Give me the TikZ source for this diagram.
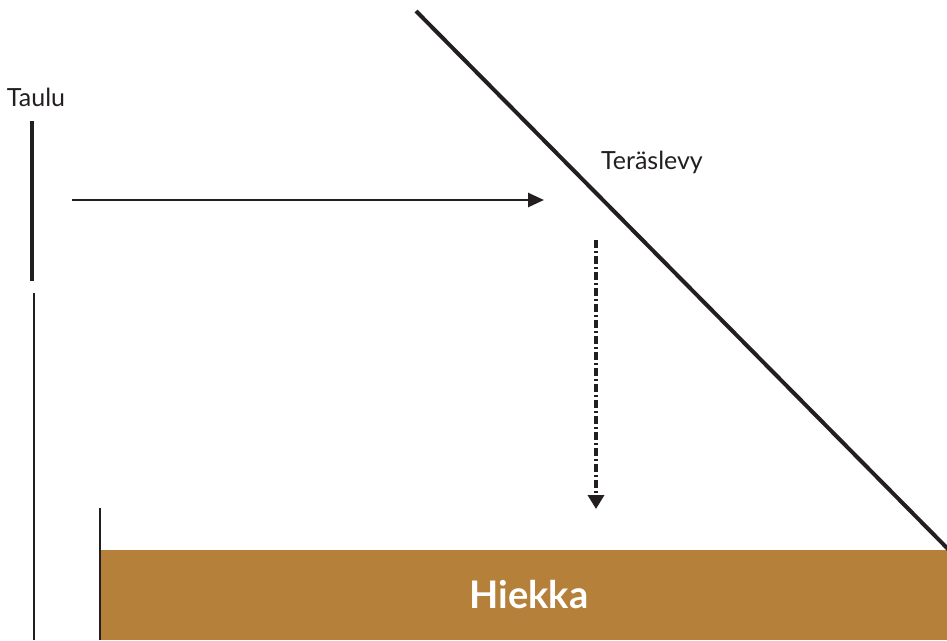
\documentclass[tikz,border=0pt]{standalone}
\usepackage{fontspec}
\setmainfont{Lato}
\usetikzlibrary{arrows.meta}
\definecolor{sand}{HTML}{B5803A}
\definecolor{ink}{HTML}{231F20}
\tikzset{
  lbl/.style={font=\fontsize{25}{28}\selectfont, text=ink, inner sep=0pt},
  thickline/.style={draw=ink, line width=4pt},
  thinline/.style={draw=ink, line width=2pt},
  arr/.style={draw=ink, line width=2.6pt, -{Triangle[length=16pt,width=14pt]}},
  dasharr/.style={draw=ink, line width=3.6pt, dash pattern=on 8pt off 3pt on 2pt off 3pt, -{Triangle[length=14pt,width=16pt]}}
}
\begin{document}
\begin{tikzpicture}[x=1pt,y=-1pt]
\useasboundingbox (0,0) rectangle (947,640);
\fill[sand] (100,550) rectangle (947,640);
\node[font=\fontsize{38}{42}\selectfont\bfseries, text=white, inner sep=0pt] (hiekka) at (529,595) {Hiekka};
\node[lbl] (taulu) at (36,97) {Taulu};
\node[lbl] (teras) at (652,162) {Teräslevy};
\coordinate (tA) at (32,121);
\coordinate (tB) at (32,281);
\draw[thickline] (tA) -- (tB);
\coordinate (wA) at (34,293);
\coordinate (wB) at (34,640);
\draw[thinline] (wA) -- (wB);
\coordinate (bA) at (100,508);
\coordinate (bB) at (100,640);
\draw[thinline] (bA) -- (bB);
\coordinate (dA) at (416,11);
\coordinate (dB) at (950,551);
\draw[thickline] (dA) -- (dB);
\coordinate (hA) at (72,200);
\coordinate (hB) at (544,200);
\draw[arr] (hA) -- (hB);
\coordinate (vA) at (596,240);
\coordinate (vB) at (596,509);
\draw[dasharr] (vA) -- (vB);
\end{tikzpicture}
\end{document}
